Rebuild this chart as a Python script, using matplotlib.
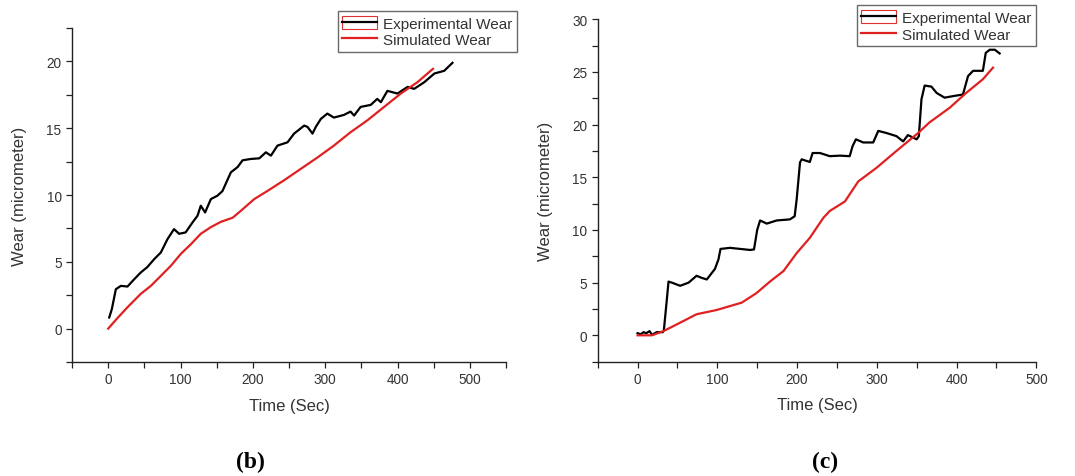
import matplotlib
matplotlib.use("Agg")
import matplotlib.pyplot as plt
from matplotlib.lines import Line2D
from matplotlib.patches import Rectangle
from matplotlib.legend_handler import HandlerTuple
from matplotlib.ticker import MultipleLocator

plt.rcParams['font.family'] = ['Liberation Sans', 'DejaVu Sans']

# panel (b)
b_exp_t = [1.4, 5, 10.6, 17.5, 26.7, 36, 45, 54, 63.6, 72.8, 82, 91, 98, 107, 116.6, 123.5,
           128, 134, 142, 151, 158, 169.6, 179, 185.7, 197, 209, 218, 225, 234, 248, 257,
           271, 275.6, 282.5, 287, 294, 303, 312, 326, 335, 340, 349, 363, 372, 377, 386,
           400, 414, 423, 437, 451, 464.5, 476]
b_exp_w = [0.83, 1.45, 2.95, 3.2, 3.15, 3.7, 4.2, 4.6, 5.2, 5.7, 6.7, 7.45, 7.1, 7.2, 7.95, 8.45,
           9.2, 8.7, 9.7, 9.95, 10.3, 11.7, 12.1, 12.6, 12.7, 12.75, 13.2, 12.95, 13.7, 13.95, 14.6,
           15.2, 15.1, 14.6, 15.1, 15.7, 16.1, 15.8, 16.0, 16.25, 15.95, 16.6, 16.75, 17.2, 16.95, 17.8,
           17.6, 18.1, 17.95, 18.45, 19.1, 19.3, 19.9]
b_sim_t = [0, 13, 26.7, 45, 59, 72.8, 86.6, 100.5, 114, 128, 142, 156, 172, 183, 202, 220, 243,
           266, 289, 312, 335, 358.5, 381.5, 404.6, 427.6, 449]
b_sim_w = [0, 0.8, 1.6, 2.6, 3.2, 3.95, 4.7, 5.6, 6.3, 7.1, 7.6, 8.0, 8.3, 8.8, 9.7, 10.3, 11.1,
           11.95, 12.8, 13.7, 14.7, 15.6, 16.6, 17.6, 18.45, 19.45]

# panel (c)
c_exp_t = [0, 4, 7.5, 11, 15, 18, 24, 31.7, 33, 36.7, 38.8, 43, 53.4, 64, 74, 80.5, 86.8, 97,
           101.4, 104, 116, 128.5, 141, 146, 150, 153.6, 162, 174.5, 191, 197, 199.5, 203.7,
           205.8, 216, 219.5, 228.7, 241, 253.8, 266, 269.6, 273.8, 283, 295.5, 301.8, 312,
           324.7, 333, 339, 350, 352.7, 356, 360, 368.5, 375, 385, 395.7, 408, 414.4, 420.7,
           433, 436.6, 441.6, 448, 454]
c_exp_w = [0.2, 0.1, 0.3, 0.2, 0.4, 0.05, 0.3, 0.3, 0.5, 3.4, 5.1, 5.0, 4.7, 5.0, 5.65, 5.45, 5.3, 6.3,
           7.2, 8.2, 8.3, 8.2, 8.1, 8.15, 10.0, 10.9, 10.6, 10.9, 11.0, 11.3, 12.9, 16.4,
           16.7, 16.45, 17.3, 17.3, 17.0, 17.05, 17.0, 17.95, 18.6, 18.3, 18.3, 19.4, 19.2,
           18.9, 18.4, 19.0, 18.6, 18.9, 22.4, 23.7, 23.6, 23.0, 22.55, 22.7, 22.85, 24.6, 25.1,
           25.1, 26.8, 27.1, 27.1, 26.75]
c_sim_t = [0, 18, 32.5, 53.4, 74, 99, 130.6, 149, 166, 183, 199.5, 216, 233, 241, 260, 276.7,
           299.7, 324.7, 351.8, 366, 391.5, 412, 433, 445.7]
c_sim_w = [0, 0, 0.4, 1.2, 2.0, 2.4, 3.1, 4.0, 5.1, 6.1, 7.8, 9.25, 11.15, 11.8, 12.7, 14.6,
           15.9, 17.5, 19.2, 20.2, 21.6, 23.0, 24.3, 25.4]

labels = ['Experimental Wear', 'Simulated Wear']
TXT = '#333333'


def addPanel(fig, rect, xlim, ylim, ymajor):
    ax = fig.add_axes(rect)
    ax.set_xlim(*xlim)
    ax.set_ylim(*ylim)
    for s in ['top', 'right']:
        ax.spines[s].set_visible(False)
    for s in ['left', 'bottom']:
        ax.spines[s].set_color('#222222')
        ax.spines[s].set_linewidth(1.0)
    ax.xaxis.set_major_locator(MultipleLocator(100))
    ax.xaxis.set_minor_locator(MultipleLocator(50))
    ax.yaxis.set_major_locator(MultipleLocator(ymajor))
    ax.yaxis.set_minor_locator(MultipleLocator(ymajor / 2))
    ax.tick_params(which='both', direction='out', length=4, width=0.9, color='#222222',
                   labelsize=9.8, labelcolor=TXT)
    ax.set_xlabel('Time (Sec)', fontsize=12, color=TXT, labelpad=8)
    ax.set_ylabel('Wear (micrometer)', fontsize=12, color=TXT, labelpad=14)
    return ax


def addLegend(fig, ax, anchor):
    h_exp = (Rectangle((0, 0), 1, 1, facecolor='none', edgecolor='#e03030', linewidth=0.8),
             Line2D([], [], color='black', linewidth=1.6))
    h_sim = Line2D([], [], color='#e02020', linewidth=1.6)
    leg = ax.legend([h_exp, h_sim], labels, loc='upper left', bbox_to_anchor=anchor,
                    bbox_transform=fig.transFigure, fontsize=11, frameon=True, fancybox=False,
                    handlelength=2.3, handleheight=1.0, handletextpad=0.35, borderpad=0.3,
                    labelspacing=0.12, borderaxespad=0,
                    handler_map={tuple: HandlerTuple(ndivide=1)})
    leg.get_frame().set_edgecolor('#444444')
    leg.get_frame().set_linewidth(1.0)
    for t in leg.get_texts():
        t.set_color(TXT)


fig = plt.figure(figsize=(10.75, 4.77), dpi=100)

ax1 = addPanel(fig, [0.067, 0.239, 0.4037, 0.700], (-50, 550), (-2.5, 22.5), 5)
ax1.plot(b_exp_t, b_exp_w, color='black', linewidth=1.6)
ax1.plot(b_sim_t, b_sim_w, color='#e02020', linewidth=1.6)
addLegend(fig, ax1, (0.314, 0.975))

ax2 = addPanel(fig, [0.556, 0.2397, 0.408, 0.718], (-50, 500), (-2.5, 30), 5)
ax2.plot(c_exp_t, c_exp_w, color='black', linewidth=1.6)
ax2.plot(c_sim_t, c_sim_w, color='#e02020', linewidth=1.6)
addLegend(fig, ax2, (0.797, 0.987))

fig.text(250 / 1075, 1 - 462 / 477, '(b)', fontsize=17, fontweight='bold',
         family=['Liberation Serif'], ha='center', va='center')
fig.text(825 / 1075, 1 - 462 / 477, '(c)', fontsize=17, fontweight='bold',
         family=['Liberation Serif'], ha='center', va='center')

plt.savefig('out.png', dpi=100)
